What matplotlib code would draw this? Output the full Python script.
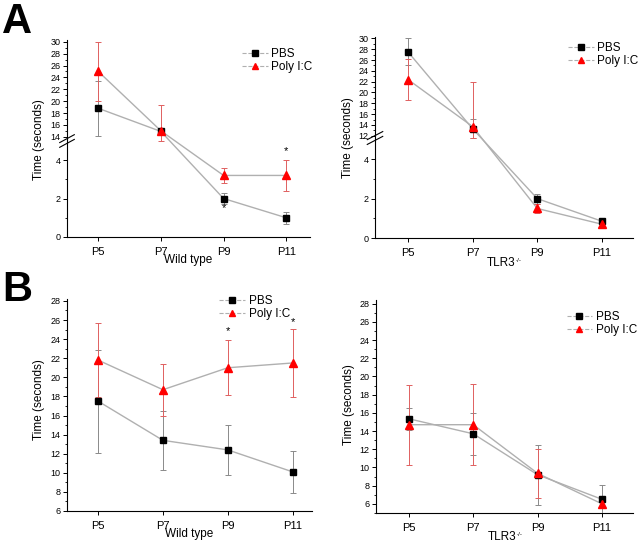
import matplotlib
matplotlib.use("Agg")
import numpy as np
import matplotlib.pyplot as plt
from matplotlib.lines import Line2D
from matplotlib.ticker import FixedLocator, MultipleLocator

plt.rcParams['font.family'] = ['Liberation Sans', 'DejaVu Sans']

days = ["P5", "P7", "P9", "P11"]

# Panel A, wild type
a_wt_pbs = [18.8, 14.9, 2.0, 1.0]
a_wt_pbs_err = [4.6, 0.3, 0.3, 0.3]
a_wt_poly = [25.0, 15.0, 3.2, 3.2]
a_wt_poly_err = [5.0, 4.4, 0.4, 0.8]

# Panel A, TLR3-/-
a_ko_pbs = [27.5, 13.3, 2.0, 0.85]
a_ko_pbs_err = [2.5, 1.8, 0.25, 0.15]
a_ko_poly = [22.4, 13.7, 1.5, 0.7]
a_ko_poly_err = [3.8, 8.2, 0.25, 0.1]

# Panel B, wild type
b_wt_pbs = [17.5, 13.4, 12.4, 10.1]
b_wt_pbs_err = [5.4, 3.1, 2.6, 2.2]
b_wt_poly = [21.8, 18.7, 21.0, 21.5]
b_wt_poly_err = [3.9, 2.7, 2.9, 3.6]

# Panel B, TLR3-/-
b_ko_pbs = [15.35, 13.7, 9.2, 6.5]
b_ko_pbs_err = [1.2, 2.3, 3.3, 1.6]
b_ko_poly = [14.7, 14.7, 9.35, 6.0]
b_ko_poly_err = [4.4, 4.45, 2.65, 0.5]

LINE_C = "#b0b0b0"
PBS_ERR = "#8a8a8a"
POLY_C = "#ff0000"
POLY_ERR = "#e06060"

W, H = 640, 543
fig = plt.figure(figsize=(W / 100, H / 100), dpi=100)


def fr(x0, y_top, x1, y_bot):
    return [x0 / W, 1 - y_bot / H, (x1 - x0) / W, (y_bot - y_top) / H]


def piecewise(xs, ys):
    xs = np.asarray(xs, float)
    ys = np.asarray(ys, float)
    s0 = (ys[1] - ys[0]) / (xs[1] - xs[0])
    s1 = (ys[-1] - ys[-2]) / (xs[-1] - xs[-2])

    def f(v):
        v = np.asarray(v, float)
        out = np.interp(v, xs, ys)
        out = np.where(v < xs[0], ys[0] + (v - xs[0]) * s0, out)
        out = np.where(v > xs[-1], ys[-1] + (v - xs[-1]) * s1, out)
        return out
    return f


def draw_series(ax, pbs, pbs_err, poly, poly_err):
    x = list(range(len(days)))
    ax.plot(x, pbs, color=LINE_C, lw=1.0, zorder=2)
    ax.plot(x, poly, color=LINE_C, lw=1.0, zorder=2)
    ax.errorbar(x, pbs, yerr=pbs_err, fmt='none', ecolor=PBS_ERR, elinewidth=0.7,
                capsize=2, capthick=0.7, zorder=3)
    ax.errorbar(x, poly, yerr=poly_err, fmt='none', ecolor=POLY_ERR, elinewidth=0.7,
                capsize=2, capthick=0.7, zorder=3)
    ax.plot(x, pbs, ls='none', marker='s', ms=5, mfc='black', mec='black', zorder=4)
    ax.plot(x, poly, ls='none', marker='^', ms=6, mfc=POLY_C, mec=POLY_C, zorder=5)


def style(ax, xlim):
    ax.spines['top'].set_visible(False)
    ax.spines['right'].set_visible(False)
    ax.set_xlim(*xlim)
    ax.tick_params(axis='y', labelsize=6.5, length=3, width=0.7, direction='out', pad=1.5)
    ax.tick_params(axis='y', which='minor', length=1.8, width=0.6)
    ax.tick_params(axis='x', labelsize=8, length=3, width=0.7, direction='out', pad=4)
    ax.set_xticks(range(len(days)))
    ax.set_xticklabels(days)


def legend(ax, anchor):
    h = [Line2D([], [], color=LINE_C, ls='--', lw=0.8, marker='s', ms=4,
                mfc='black', mec='black'),
         Line2D([], [], color=LINE_C, ls='--', lw=0.8, marker='^', ms=5,
                mfc=POLY_C, mec=POLY_C)]
    ax.legend(h, ["PBS", "Poly I:C"], loc='upper right', bbox_to_anchor=anchor,
              frameon=False, fontsize=8.5, handlelength=2.2, handletextpad=0.3,
              labelspacing=0.1, borderaxespad=0)


def tlr3_label(ax, y_off):
    t = ax.annotate("TLR3", xy=(0.5, 0), xycoords='axes fraction',
                    xytext=(-2, y_off), textcoords='offset points',
                    ha='center', va='top', fontsize=8.5)
    ax.annotate("-/-", xy=(1, 1), xycoords=t, xytext=(0.3, -0.5),
                textcoords='offset points', ha='left', va='top', fontsize=4.5)


def wt_label(ax, y_off):
    ax.annotate("Wild type", xy=(0.5, 0), xycoords='axes fraction',
                xytext=(0, y_off), textcoords='offset points',
                ha='center', va='top', fontsize=8.5)


def broken_panel(x0, x1, y_top, y_break, y_bot, lo_lim, up_lim, up_ticks,
                 pbs, pbs_err, poly, poly_err, xlim):
    ax = fig.add_axes(fr(x0, y_top, x1, y_bot))
    h = (y_bot - y_break) / (y_bot - y_top)
    xs = [lo_lim[0], lo_lim[1], up_lim[0], up_lim[1]]
    ys = [0.0, h, h + 1e-4, 1.0]
    fwd = piecewise(xs, ys)
    inv = piecewise(ys, xs)
    ax.set_yscale('function', functions=(fwd, inv))
    draw_series(ax, pbs, pbs_err, poly, poly_err)
    style(ax, xlim)
    ax.set_ylim(lo_lim[0], up_lim[1])
    major = [0, 2, 4] + list(up_ticks)
    ax.yaxis.set_major_locator(FixedLocator(major))
    ax.set_yticklabels([str(v) for v in major])
    minor = [1, 3] + [v + 1 for v in up_ticks[:-1]]
    ax.yaxis.set_minor_locator(FixedLocator(minor))
    # break marks on the left spine
    for dy in (-0.012, 0.012):
        ax.plot([-0.03, 0.03], [h + dy - 0.02, h + dy + 0.02], transform=ax.transAxes,
                color='black', lw=0.8, clip_on=False, zorder=10)
    return ax


# Panel A left (wild type)
axA1 = broken_panel(67, 310, 40, 141, 237, (0, 4.99), (13.3, 30.3),
                    list(range(14, 31, 2)),
                    a_wt_pbs, a_wt_pbs_err, a_wt_poly, a_wt_poly_err, (-0.5, 3.38))
axA1.text(3, 4.45, "*", ha='center', va='center', fontsize=8)
axA1.text(2, 1.5, "*", ha='center', va='center', fontsize=8)
wt_label(axA1, -12)
legend(axA1, (1.03, 0.985))
fig.text(39 / W, 1 - 140 / H, "Time (seconds)", rotation=90, fontsize=8.5,
         ha='center', va='center')

# Panel A right (TLR3-/-)
axA2 = broken_panel(375, 633, 37, 138, 238, (0, 5.08), (11.6, 30.25),
                    list(range(12, 31, 2)),
                    a_ko_pbs, a_ko_pbs_err, a_ko_poly, a_ko_poly_err, (-0.51, 3.48))
tlr3_label(axA2, -14)
legend(axA2, (1.04, 1.0))
fig.text(348 / W, 1 - 138 / H, "Time (seconds)", rotation=90, fontsize=8.5,
         ha='center', va='center')

# Panel B left (wild type)
bwt = fig.add_axes(fr(67, 299, 312, 511))
draw_series(bwt, b_wt_pbs, b_wt_pbs_err, b_wt_poly, b_wt_poly_err)
style(bwt, (-0.48, 3.3))
bwt.set_ylim(6, 28.2)
bwt.set_yticks(range(6, 29, 2))
bwt.yaxis.set_minor_locator(MultipleLocator(1))
wt_label(bwt, -12)
bwt.text(2, 24.8, "*", ha='center', va='center', fontsize=8)
bwt.text(3, 25.8, "*", ha='center', va='center', fontsize=8)
legend(bwt, (0.93, 1.04))
fig.text(39 / W, 1 - 400 / H, "Time (seconds)", rotation=90, fontsize=8.5,
         ha='center', va='center')

# Panel B right (TLR3-/-)
bko = fig.add_axes(fr(376, 300, 633, 513))
draw_series(bko, b_ko_pbs, b_ko_pbs_err, b_ko_poly, b_ko_poly_err)
style(bko, (-0.51, 3.48))
bko.set_ylim(5.0, 28.4)
bko.set_yticks(range(6, 29, 2))
bko.yaxis.set_minor_locator(MultipleLocator(1))
tlr3_label(bko, -13)
legend(bko, (1.035, 0.97))
fig.text(349 / W, 1 - 405 / H, "Time (seconds)", rotation=90, fontsize=8.5,
         ha='center', va='center')

# panel letters
fig.text(2 / W, 1 - 2 / H, "A", fontsize=30, fontweight='bold', ha='left', va='top')
fig.text(2 / W, 1 - 270 / H, "B", fontsize=30, fontweight='bold', ha='left', va='top')

fig.savefig("out.png", dpi=100)
